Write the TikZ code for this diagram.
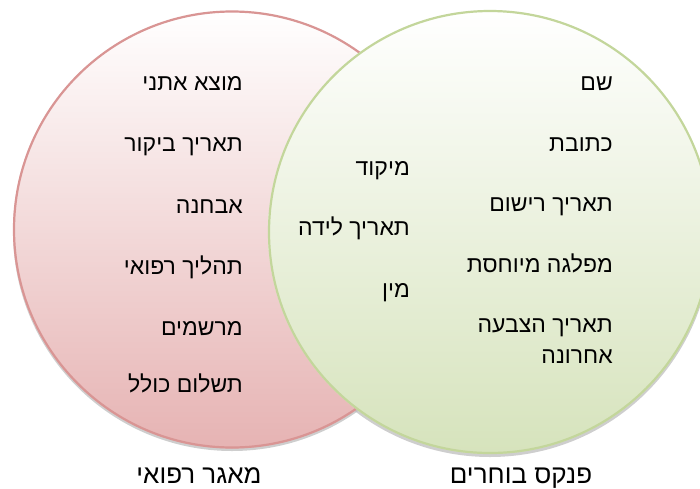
\documentclass[tikz,border=0pt]{standalone}
\usepackage{fontspec}
\newfontfamily\hebfont[Script=Hebrew]{Liberation Sans}
\TeXXeTstate=1
\definecolor{rosaborde}{HTML}{D99594}
\definecolor{rosafondo}{HTML}{E6B3B3}
\definecolor{verdeborde}{HTML}{C3D69B}
\definecolor{verdefondo}{HTML}{D6E3BC}
\newcommand{\heb}[1]{\hebfont\beginR #1\endR}

\begin{document}
\begin{tikzpicture}[
    x=1pt, y=-1pt,
    font=\fontsize{23}{31}\selectfont,
    item/.style={anchor=base east, inner sep=0, align=right},
    titulo/.style={anchor=base, inner sep=0, font=\fontsize{26}{31}\selectfont}
]
\useasboundingbox (0,0) rectangle (700,488);
\clip (0,0) rectangle (700,488);

% ============================================
% SOMBRAS
% ============================================
\fill[gray!55, opacity=0.7] (232,232) circle [radius=219];
\fill[gray!55, opacity=0.7] (490,235) circle [radius=222];

% ============================================
% CIRCULO IZQUIERDO (MAGAR REFUI)
% ============================================
\shade[top color=white, bottom color=rosafondo] (232,229.5) circle [radius=219];
\draw[rosaborde, line width=2.2] (232,229.5) circle [radius=218];

% ============================================
% CIRCULO DERECHO (PINKAS BOCHRIM)
% ============================================
\shade[top color=white, bottom color=verdefondo] (490,232) circle [radius=222];
\draw[verdeborde, line width=2.2] (490,232) circle [radius=221];

% ============================================
% TEXTOS IZQUIERDA
% ============================================
\node[item] (etnia)    at (243,90)  {\heb{מוצא אתני}};
\node[item] (visita)   at (243,151) {\heb{תאריך ביקור}};
\node[item] (diagn)    at (243,213) {\heb{אבחנה}};
\node[item] (proceso)  at (243,274) {\heb{תהליך רפואי}};
\node[item] (recetas)  at (243,335) {\heb{מרשמים}};
\node[item] (pago)     at (243,392) {\heb{תשלום כולל}};

% ============================================
% TEXTOS CENTRO
% ============================================
\node[item] (codigo)   at (410,175) {\heb{מיקוד}};
\node[item] (nacim)    at (410,235) {\heb{תאריך לידה}};
\node[item] (sexo)     at (410,297) {\heb{מין}};

% ============================================
% TEXTOS DERECHA
% ============================================
\node[item] (nombre)   at (613,90)  {\heb{שם}};
\node[item] (direcc)   at (613,151) {\heb{כתובת}};
\node[item] (registro) at (613,211) {\heb{תאריך רישום}};
\node[item] (partido)  at (613,272) {\heb{מפלגה מיוחסת}};
\node[item] (voto)     at (613,363) {\heb{תאריך הצבעה}\\\heb{אחרונה}};

% ============================================
% TITULOS
% ============================================
\node[titulo] (medico)  at (199,483) {\heb{מאגר רפואי}};
\node[titulo] (votante) at (521,483) {\heb{פנקס בוחרים}};

\end{tikzpicture}
\end{document}
